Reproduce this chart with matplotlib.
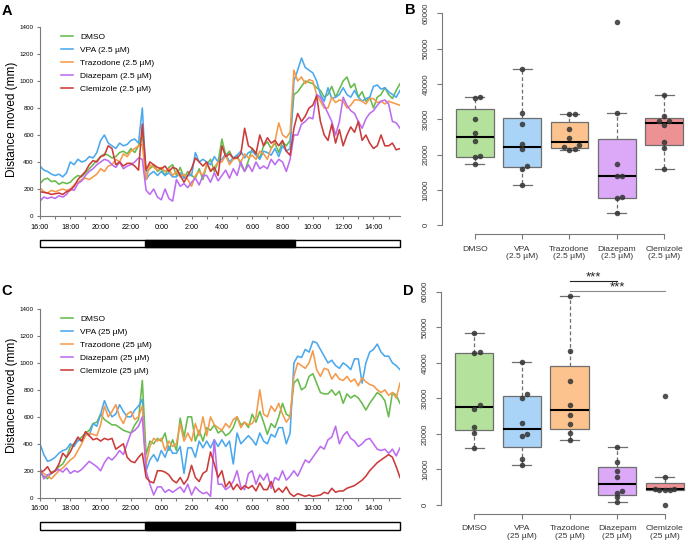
import numpy as np
import matplotlib
matplotlib.use('Agg')
import matplotlib.pyplot as plt
from matplotlib.patches import Rectangle

plt.rcParams['font.family'] = ['Liberation Sans', 'DejaVu Sans']

# ---------------- data ----------------
groups = ['DMSO', 'VPA', 'Trazodone', 'Diazepam', 'Clemizole']
conc_low = '2.5 µM'
conc_high = '25 µM'

# 15-min bins starting 16:00 (hours since 16:00)
step_h = 0.25
tick_hours = list(range(24))
tick_labels = ['16:00', '', '18:00', '', '20:00', '', '22:00', '', '0:00', '', '2:00', '',
               '4:00', '', '6:00', '', '8:00', '', '10:00', '', '12:00', '', '14:00', '']
lights_off_h = 6.92
lights_on_h = 16.8

A_DMSO = [240, 270, 280, 255, 260, 235, 250, 240, 250, 280, 300, 290, 320, 350, 380, 410,
          440, 460, 450, 430, 440, 470, 480, 460, 500, 470, 520, 600, 330, 350, 380, 330,
          350, 300, 360, 380, 300, 360, 280, 330, 300, 280, 350, 270, 380, 420, 330, 400,
          570, 450, 480, 420, 450, 380, 330, 410, 500, 470, 430, 520, 550, 500, 540, 470,
          550, 520, 560, 900, 920, 960, 1000, 990, 980, 950, 930, 880, 900, 960, 880, 940,
          1000, 1030, 950, 980, 880, 920, 850, 880, 800, 880, 900, 950, 900, 870, 930, 980]
A_VPA = [370, 340, 330, 310, 300, 310, 290, 320, 400, 380, 420, 400, 410, 440, 430, 470,
         560, 600, 540, 520, 500, 540, 520, 530, 560, 570, 540, 800, 270, 310, 330, 300,
         330, 300, 320, 290, 290, 320, 280, 300, 300, 470, 400, 420, 400, 380, 440, 400,
         420, 460, 400, 430, 450, 480, 430, 470, 480, 450, 420, 480, 470, 450, 500, 440,
         520, 480, 500, 1000, 1080, 1170, 1100, 1080, 1060, 1000, 900, 850, 950, 870, 880, 900,
         950, 900, 880, 930, 880, 850, 870, 880, 960, 970, 940, 950, 920, 900, 880, 930]
A_TRAZ = [210, 180, 170, 190, 180, 190, 200, 190, 200, 230, 250, 270, 280, 270, 290, 310,
          350, 330, 370, 380, 420, 400, 460, 440, 480, 500, 520, 530, 270, 380, 360, 340,
          360, 330, 350, 300, 330, 290, 310, 270, 220, 300, 330, 300, 380, 340, 360, 400,
          400, 450, 380, 420, 430, 400, 460, 430, 450, 420, 480, 460, 420, 500, 550, 690,
          600, 580, 620, 1080, 1000, 1030, 980, 1010, 1000, 900, 850, 800, 800, 880, 840, 860,
          850, 800, 820, 860, 860, 850, 830, 870, 870, 840, 850, 830, 850, 840, 830, 820]
A_DIAZ = [110, 140, 130, 140, 130, 150, 140, 160, 200, 190, 240, 260, 300, 330, 350, 380,
          400, 420, 410, 380, 360, 400, 350, 370, 380, 400, 430, 420, 190, 160, 200, 140,
          120, 200, 130, 110, 270, 220, 240, 210, 250, 280, 230, 300, 300, 250, 320, 260,
          300, 340, 280, 350, 300, 400, 330, 380, 330, 400, 350, 370, 350, 420, 380, 420,
          400, 330, 420, 600, 600, 680, 700, 730, 720, 900, 880, 820, 760, 700, 600, 700,
          880, 820, 780, 760, 700, 650, 720, 760, 780, 820, 850, 860, 830, 700, 690, 650]
A_CLEM = [180, 175, 170, 160, 165, 170, 160, 180, 190, 220, 270, 300, 330, 380, 410, 400,
          440, 450, 520, 500, 380, 400, 370, 390, 390, 370, 340, 680, 340, 400, 380, 360,
          350, 370, 330, 360, 350, 300, 250, 300, 350, 430, 400, 370, 400, 330, 360, 300,
          520, 440, 460, 430, 430, 460, 650, 520, 500, 460, 600, 520, 580, 540, 560, 520,
          560, 480, 450, 650, 760, 700, 740, 800, 820, 890, 700, 600, 560, 680, 540, 640,
          520, 600, 660, 620, 700, 560, 600, 540, 500, 520, 600, 520, 520, 540, 490, 500]

C_DMSO = [180, 160, 140, 190, 200, 230, 250, 300, 380, 400, 420, 450, 480, 500, 550, 560,
          620, 580, 560, 540, 540, 520, 500, 490, 480, 540, 580, 870, 320, 420, 400, 440,
          420, 480, 350, 430, 350, 590, 450, 600, 600, 420, 500, 420, 520, 500, 540, 480,
          500, 460, 480, 520, 600, 540, 560, 520, 620, 560, 640, 560, 470, 550, 520, 600,
          700, 620, 600, 850, 880, 800, 820, 900, 920, 850, 780, 770, 770, 800, 760, 790,
          700, 770, 740, 760, 740, 700, 650, 700, 740, 780, 760, 720, 600, 780, 760, 700]
C_VPA = [400, 320, 270, 280, 300, 330, 350, 360, 400, 380, 430, 420, 480, 460, 550, 530,
         620, 720, 650, 600, 620, 690, 640, 600, 600, 650, 680, 730, 200, 280, 320, 270,
         350, 300, 380, 330, 330, 380, 180, 370, 370, 300, 420, 370, 420, 370, 430, 380,
         430, 380, 420, 250, 480, 400, 430, 460, 430, 390, 480, 420, 400, 470, 450, 520,
         520, 400, 480, 1000, 1050, 1040, 1100, 1080, 1160, 1150, 1100, 1050, 1000, 1020, 980, 960,
         1000, 980, 950, 1030, 1030, 850, 1000, 1080, 1100, 1140, 1080, 1050, 1050, 1000, 980, 950]
C_TRAZ = [200, 180, 160, 140, 170, 200, 220, 250, 280, 300, 350, 400, 460, 480, 470, 460,
          540, 680, 600, 640, 690, 600, 550, 620, 640, 580, 600, 680, 250, 380, 440, 420,
          440, 350, 420, 380, 400, 550, 420, 480, 420, 550, 460, 600, 460, 600, 540, 520,
          500, 550, 520, 580, 600, 520, 560, 540, 550, 600, 800, 620, 600, 680, 640, 700,
          620, 560, 600, 900, 1000, 980, 960, 1000, 1090, 950, 900, 960, 950, 880, 920, 880,
          870, 900, 860, 880, 830, 890, 860, 840, 830, 800, 780, 800, 760, 780, 740, 850]
C_DIAZ = [220, 140, 170, 180, 200, 210, 190, 220, 180, 200, 190, 210, 240, 270, 250, 230,
          200, 260, 300, 280, 310, 350, 320, 400, 480, 500, 530, 600, 200, 100, 20, 80,
          80, 40, 60, 40, 60, 80, 40, 100, 20, 80, 50, 30, 40, 10, 430, 100,
          100, 60, 80, 120, 200, 80, 60, 180, 200, 100, 170, 130, 180, 70, 150, 130,
          200, 130, 160, 200, 160, 220, 280, 260, 300, 340, 380, 360, 430, 450, 530, 400,
          460, 490, 440, 420, 380, 400, 430, 440, 400, 360, 350, 360, 330, 360, 310, 370]
C_CLEM = [190, 200, 230, 180, 200, 250, 330, 300, 340, 400, 450, 420, 490, 460, 430, 440,
          420, 440, 430, 440, 360, 380, 400, 300, 270, 260, 300, 330, 150, 120, 110, 200,
          200, 190, 170, 130, 110, 150, 100, 140, 240, 150, 120, 180, 200, 340, 250, 150,
          200, 80, 120, 60, 100, 60, 90, 70, 90, 50, 110, 60, 60, 120, 40, 70,
          40, 80, 30, 10, 30, 20, 10, 20, 10, 15, 20, 40, 30, 70, 40, 50,
          50, 70, 80, 90, 110, 130, 160, 200, 230, 260, 280, 300, 320, 300, 230, 150]

# total distance per larva (mm), 8 larvae per group
B_DMSO = [36000, 36200, 30100, 26100, 24000, 19500, 19400, 17300]
B_VPA = [44200, 31900, 28600, 23000, 21600, 16900, 16000, 11500]
B_TRAZ = [31400, 31500, 27200, 24800, 22600, 22300, 21700, 21300]
B_DIAZ = [57400, 31700, 17400, 14000, 13900, 7900, 7700, 3400]
B_CLEM = [36900, 31000, 29600, 29400, 28400, 23700, 21800, 15900]

D_DMSO = [48500, 43000, 42800, 28100, 27000, 21800, 20200, 16000]
D_VPA = [40100, 31100, 30000, 23000, 20000, 19500, 13000, 11300]
D_TRAZ = [58800, 43400, 35000, 28100, 25300, 22800, 20200, 18200]
D_DIAZ = [16200, 12000, 9600, 7800, 4000, 3500, 2300, 700]
D_CLEM = [30600, 8000, 4600, 4500, 4300, 4300, 4100, 100]

sig_pairs = [(3, 4), (3, 5)]
sig_text = '***'

# ---------------- style ----------------
line_colors = ['#66bb4c', '#4aa8ef', '#f59a4a', '#bd6cf0', '#cc3a3a']
box_colors = ['#b4e29c', '#a9d3f7', '#fcc38e', '#dba9f8', '#ec9294']
axis_gray = '#7a7a7a'

W, H = 688, 544
fig = plt.figure(figsize=(W / 100, H / 100), dpi=100)


def fx(px):
    return px / W


def fy(py):
    return 1 - py / H


def line_panel(top, bottom, bar_top, bar_bot, series, conc, leg_top, label_y):
    ax = fig.add_axes([fx(40), fy(bottom), fx(400) - fx(40), fy(top) - fy(bottom)])
    n = len(series[0])
    t = np.arange(n) * step_h
    for vals, name, col in zip(series, groups, line_colors):
        lab = name if name == 'DMSO' else f'{name} ({conc})'
        ax.plot(t, vals, color=col, lw=1.15, label=lab)
    ax.set_xlim(0, (n - 1) * step_h)
    ax.set_ylim(0, 1400)
    ax.set_yticks(range(0, 1401, 200))
    ax.set_xticks(tick_hours)
    ax.set_xticklabels(tick_labels)
    for s in ['top', 'right']:
        ax.spines[s].set_visible(False)
    for s in ['left', 'bottom']:
        ax.spines[s].set_color(axis_gray)
        ax.spines[s].set_linewidth(0.8)
    ax.tick_params(axis='y', labelsize=4.5, length=2, pad=2.5, color=axis_gray)
    ax.tick_params(axis='x', labelsize=5.2, length=2, pad=3.5, color=axis_gray)
    ax.set_ylabel('Distance moved (mm)', fontsize=8.5)
    ax.yaxis.set_label_coords(-0.062, label_y)
    ax.legend(loc='upper left', bbox_to_anchor=(fx(61), fy(leg_top)),
              bbox_transform=fig.transFigure, frameon=False, fontsize=6,
              handlelength=1.45, handletextpad=0.85, labelspacing=0.62,
              borderpad=0, borderaxespad=0)
    # light / dark bar
    bx = fig.add_axes([fx(40), fy(bar_bot), fx(400) - fx(40), fy(bar_top) - fy(bar_bot)])
    bx.set_xlim(0, (n - 1) * step_h)
    bx.set_ylim(0, 1)
    bx.add_patch(Rectangle((0, 0), (n - 1) * step_h, 1, facecolor='white',
                           edgecolor='black', lw=1.0, clip_on=False))
    bx.add_patch(Rectangle((lights_off_h, 0), lights_on_h - lights_off_h, 1,
                           facecolor='black', edgecolor='black', lw=1.0, clip_on=False))
    bx.axis('off')
    return ax


def tukey(vals):
    x = np.sort(np.asarray(vals, dtype=float))
    n = len(x)
    n4 = np.floor((n + 3) / 2) / 2
    d = np.array([1, n4, (n + 1) / 2, n + 1 - n4, n]) - 1
    f = 0.5 * (x[np.floor(d).astype(int)] + x[np.ceil(d).astype(int)])
    q1, med, q3 = f[1], f[2], f[3]
    iqr = q3 - q1
    lo = x[x >= q1 - 1.5 * iqr].min()
    hi = x[x <= q3 + 1.5 * iqr].max()
    return dict(med=med, q1=q1, q3=q3, whislo=lo, whishi=hi, fliers=[])


def jitter(vals):
    order = np.argsort(vals)
    offs = np.zeros(len(vals))
    pattern = [0.0, 0.11, -0.11, 0.2, -0.2]
    k = 0
    prev = None
    for i in order:
        if prev is not None and abs(vals[i] - prev) < 1200:
            k += 1
        else:
            k = 0
        offs[i] = pattern[k % len(pattern)]
        prev = vals[i]
    return offs


def box_panel(left, top0, bottom, spacing, data, conc):
    ylo, yhi = -2400, 62400
    ax = fig.add_axes([fx(left), fy(bottom), 1 - fx(left), fy(top0) - fy(bottom)])
    stats = [tukey(v) for v in data]
    pos = [1, 2, 3, 4, 5]
    bp = ax.bxp(stats, positions=pos, widths=0.8, patch_artist=True, showfliers=False,
                boxprops=dict(edgecolor='#6e6e6e', lw=0.9),
                whiskerprops=dict(color='#6e6e6e', ls=(0, (3, 2)), lw=0.9),
                capprops=dict(color='#6e6e6e', lw=0.9),
                medianprops=dict(color='black', lw=1.5), capwidths=0.4)
    for patch, c in zip(bp['boxes'], box_colors):
        patch.set_facecolor(c)
    for p, v in zip(pos, data):
        v = np.asarray(v, dtype=float)
        ax.plot(p + jitter(v), v, 'o', ms=4, color='#333333', alpha=0.85,
                mec='none', zorder=5)
    ax.set_xlim(0.3, 0.3 + (W - left) / spacing)
    ax.set_ylim(ylo, yhi)
    for s in ['top', 'right']:
        ax.spines[s].set_visible(False)
    ax.spines['left'].set_bounds(0, 60000)
    ax.spines['bottom'].set_bounds(1, 5)
    for s in ['left', 'bottom']:
        ax.spines[s].set_color(axis_gray)
        ax.spines[s].set_linewidth(0.8)
    ax.set_yticks(range(0, 60001, 10000))
    ax.set_yticklabels([str(v) for v in range(0, 60001, 10000)], rotation=90,
                       va='center', ha='right')
    labs = [g if g == 'DMSO' else f'{g}\n({conc})' for g in groups]
    ax.set_xticks(pos)
    ax.set_xticklabels(labs, linespacing=1.15)
    ax.tick_params(axis='y', labelsize=5.7, length=3.6, pad=5.0, color=axis_gray,
                   labelcolor='#333333')
    ax.tick_params(axis='x', labelsize=6.1, length=3.6, pad=5.0, color=axis_gray,
                   labelcolor='#333333')
    return ax


axA = line_panel(27, 216, 240, 247, [A_DMSO, A_VPA, A_TRAZ, A_DIAZ, A_CLEM],
                 conc_low, 33, 0.514)
axC = line_panel(309, 497.7, 522.3, 530, [C_DMSO, C_VPA, C_TRAZ, C_DIAZ, C_CLEM],
                 conc_high, 315.5, 0.54)

axB = box_panel(441.7, 4.8, 233.8, 47.33, [B_DMSO, B_VPA, B_TRAZ, B_DIAZ, B_CLEM], conc_low)
axD = box_panel(441.0, 283.2, 513.5, 47.6, [D_DMSO, D_VPA, D_TRAZ, D_DIAZ, D_CLEM], conc_high)

# significance annotations on D
sig_y = [63000, 60300]
sig_col = ['#222222', '#8a8a8a']
for (a, b), yv, c in zip(sig_pairs, sig_y, sig_col):
    axD.plot([a, b], [yv, yv], color=c, lw=0.8, clip_on=False)
    axD.text((a + b) / 2, yv + 100, sig_text, ha='center', va='baseline', fontsize=9.5,
             color='#222222', clip_on=False)

# panel letters
for txt, x, y in [('A', 2, 4), ('B', 405, 3), ('C', 1, 284), ('D', 403, 284)]:
    fig.text(fx(x), fy(y), txt, fontsize=10.5, fontweight='bold', ha='left', va='top')

fig.savefig('out.png', dpi=100)
